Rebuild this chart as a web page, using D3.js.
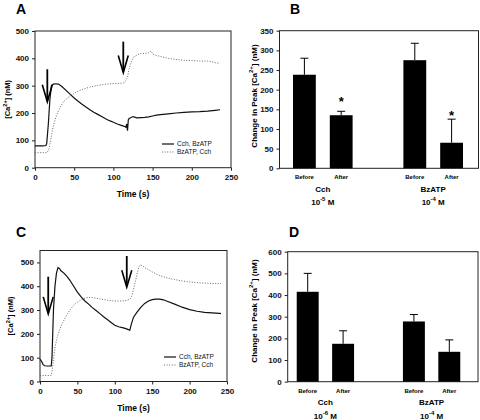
<!DOCTYPE html>
<html><head><meta charset="utf-8">
<script src="https://cdn.jsdelivr.net/npm/d3@7"></script>
<style>
body{margin:0;background:#fff;}
svg{display:block;font-family:"Liberation Sans",Arial,sans-serif;}
</style></head>
<body><svg id="c" width="480" height="420"></svg>
<script>
// ---------- DATA ----------
// Panel A: time course (s, nM)
const timeA_cch = [0,5,10,14,15,17,19,21,24,30,35,40,45,50,55,60,65,70,75,80,85,90,95,100,105,110,113,115,116,117,118,119,120,122,125,130,135,140,145,150,155,160,170,180,190,200,210,220,230,236];
const caA_cch   = [80,80,80,81,90,160,250,300,307,306,295,282,268,255,243,232,222,212,203,195,187,179,172,166,160,155,152,150,148,160,135,175,180,183,187,182,183,184,186,189,192,194,197,200,202,204,205,207,210,212];
const timeA_bz  = [0,10,15,16,18,20,22,25,28,32,36,40,45,50,55,60,70,80,90,100,110,113,115,118,120,123,126,130,135,140,145,148,150,155,160,170,180,190,200,210,220,225,230,236];
const caA_bz    = [55,55,55,58,70,100,135,170,195,220,240,252,263,272,280,286,295,301,305,308,309,310,316,330,360,390,405,412,418,418,420,427,415,410,407,400,396,393,392,390,390,388,384,382];
const arrowsA_t = [15.7,112.6], arrowsA_top = [360,461], arrowsA_tip = [241,348];

// Panel C: time course (s, nM)
const timeC_cch = [0,2,4,6,10,15,16,17,18,20,22,24,26,28,32,36,40,45,50,55,60,65,70,75,80,85,90,95,100,105,110,115,118,120,122,125,130,135,140,145,150,155,160,165,170,180,190,200,210,220,230,240,242];
const caC_cch   = [94,85,72,66,65,65,100,200,300,400,455,478,475,465,455,441,425,400,375,355,338,325,310,298,285,272,260,248,236,230,226,222,218,215,240,270,292,312,328,338,344,346,346,343,337,325,312,302,295,290,288,286,285];
const timeC_bz  = [0,10,15,16,18,20,23,26,30,35,40,45,50,55,60,65,70,75,80,90,100,110,115,120,123,126,129,132,134,137,140,150,160,170,180,190,200,210,220,230,240,242];
const caC_bz    = [25,25,25,40,90,145,185,215,245,275,300,320,333,343,350,353,352,350,347,341,338,338,340,345,360,400,440,480,490,485,478,460,445,435,428,422,418,415,413,412,411,412];
const arrowsC_t = [11,116], arrowsC_top = [440,527], arrowsC_tip = [284,396];

const legendLabels = ["Cch, BzATP","BzATP, Cch"];

// Panel B: bar chart
const barCats  = ["Before","After","Before","After"];
const groupsB  = ["Cch","BzATP"];
const concB    = [["10","-5"," M"],["10","-4"," M"]];
const valuesB  = [238,135,275,65];
const errorsB  = [42,10,43,60];
const starB    = [null,174,null,140];
const ticksB   = [0,50,100,150,200,250,300,350];

// Panel D: bar chart
const groupsD  = ["Cch","BzATP"];
const concD    = [["10","-6"," M"],["10","-4"," M"]];
const valuesD  = [415,175,278,138];
const errorsD  = [85,60,32,55];
const ticksD   = [0,100,200,300,400,500,600];

const ticksLine = [0,100,200,300,400,500];
const ticksTime = [0,50,100,150,200,250];

// ---------- DRAW ----------
const svg = d3.select("#c");
const FONT = 8;

function frame(g, x0, x1, yT, yB){
  g.append("rect").attr("x",x0).attr("y",yT).attr("width",x1-x0).attr("height",yB-yT)
    .attr("fill","none").attr("stroke","#222").attr("stroke-width",1);
}
function styleAxis(a){
  a.select(".domain").remove();
  a.selectAll("text").attr("font-size",FONT).attr("font-weight","bold").attr("fill","#111")
    .attr("font-family","Liberation Sans, Arial, sans-serif");
  a.selectAll("line").attr("stroke","#222");
}
function panelLetter(t,x,y){
  svg.append("text").attr("x",x).attr("y",y).text(t).attr("font-size",14).attr("font-weight","bold");
}
function caLabel(x,y,text1,sup,text2,size){
  const t = svg.append("text").attr("transform",`translate(${x},${y}) rotate(-90)`)
    .attr("text-anchor","middle").attr("font-size",size).attr("font-weight","bold");
  t.append("tspan").text(text1);
  t.append("tspan").text(sup).attr("font-size",size*0.75).attr("dy",-size*0.45);
  t.append("tspan").text(text2).attr("dy",size*0.45);
}

function linePanel(opt){
  const x = d3.scaleLinear().domain([0,250]).range([opt.x0,opt.x1]);
  const y = d3.scaleLinear().domain([0,opt.ymax]).range([opt.yB,opt.yT]);
  const g = svg.append("g");
  frame(g,opt.x0,opt.x1,opt.yT,opt.yB);
  const ay = g.append("g").attr("transform",`translate(${opt.x0},0)`)
    .call(d3.axisLeft(y).tickValues(ticksLine).tickSize(3).tickPadding(3).tickFormat(d3.format("d")));
  styleAxis(ay);
  const ax = g.append("g").attr("transform",`translate(0,${opt.yB})`)
    .call(d3.axisBottom(x).tickValues(ticksTime).tickSize(3).tickPadding(4).tickFormat(d3.format("d")));
  styleAxis(ax);
  const line = d3.line().x(d=>x(d[0])).y(d=>y(d[1]));
  g.append("path").datum(d3.zip(opt.tb,opt.vb)).attr("d",line)
    .attr("fill","none").attr("stroke","#666").attr("stroke-width",1).attr("stroke-dasharray","1,1.6");
  g.append("path").datum(d3.zip(opt.ta,opt.va)).attr("d",line)
    .attr("fill","none").attr("stroke","#111").attr("stroke-width",1.2);
  // arrows
  opt.arT.forEach((t,i)=>{
    const xx = x(t), y1 = y(opt.arTop[i]), y2 = y(opt.arTip[i]);
    g.append("line").attr("x1",xx).attr("x2",xx).attr("y1",y1).attr("y2",y2-1)
      .attr("stroke","#000").attr("stroke-width",1.8);
    g.append("path").attr("d",`M${xx-5},${y2-17}L${xx},${y2}L${xx+5},${y2-17}`)
      .attr("fill","none").attr("stroke","#000").attr("stroke-width",1.6);
  });
  // legend
  legendLabels.forEach((lab,i)=>{
    const ly = opt.legY + i*8;
    g.append("line").attr("x1",opt.legX).attr("x2",opt.legX+12).attr("y1",ly).attr("y2",ly)
      .attr("stroke", i===0?"#111":"#666").attr("stroke-width", i===0?1.2:1)
      .attr("stroke-dasharray", i===0?null:"1,1.6");
    g.append("text").attr("x",opt.legX+15).attr("y",ly+2.3).text(lab).attr("font-size",6.5).attr("fill","#111");
  });
  // x title
  svg.append("text").attr("x",(opt.x0+opt.x1)/2).attr("y",opt.yB+29).attr("text-anchor","middle")
    .attr("font-size",8.5).attr("font-weight","bold").text("Time (s)");
  caLabel(opt.ylx,(opt.yT+opt.yB)/2,"[Ca","2+","] (nM)",7.5);
}

function barPanel(opt){
  const x = d3.scaleBand().domain([0,1,"gap",2,3]).range([opt.b0,opt.b1]).paddingInner(0.38).paddingOuter(0.19);
  const y = d3.scaleLinear().domain([0,opt.ymax]).range([opt.yB,opt.yT]);
  const g = svg.append("g");
  frame(g,opt.x0,opt.x1,opt.yT,opt.yB);
  const ay = g.append("g").attr("transform",`translate(${opt.x0},0)`)
    .call(d3.axisLeft(y).tickValues(opt.ticks).tickSize(3).tickPadding(3).tickFormat(d3.format("d")));
  styleAxis(ay);
  opt.values.forEach((v,i)=>{
    const cx = x(i)+x.bandwidth()/2;
    // error bar
    g.append("line").attr("x1",cx).attr("x2",cx).attr("y1",y(v)).attr("y2",y(v+opt.errors[i])).attr("stroke","#000");
    g.append("line").attr("x1",cx-4).attr("x2",cx+4).attr("y1",y(v+opt.errors[i])).attr("y2",y(v+opt.errors[i])).attr("stroke","#000");
    g.append("rect").attr("x",x(i)).attr("y",y(v)).attr("width",x.bandwidth()).attr("height",y(0)-y(v)).attr("fill","#000");
    g.append("text").attr("x",cx).attr("y",opt.yB+11).attr("text-anchor","middle")
      .attr("font-size",6).attr("font-weight","bold").text(barCats[i]);
    if(opt.stars && opt.stars[i]!=null){
      g.append("text").attr("x",cx).attr("y",y(opt.stars[i])+6.5).attr("text-anchor","middle")
        .attr("font-size",13).attr("font-weight","bold").text("*");
    }
  });
  opt.groups.forEach((gr,k)=>{
    const cx = (x(2*k)+x(2*k+1)+x.bandwidth())/2;
    g.append("text").attr("x",cx).attr("y",opt.yB+23.5).attr("text-anchor","middle")
      .attr("font-size",8).attr("font-weight","bold").text(gr);
    const t = g.append("text").attr("x",cx).attr("y",opt.yB+37).attr("text-anchor","middle")
      .attr("font-size",8).attr("font-weight","bold");
    t.append("tspan").text(opt.conc[k][0]);
    t.append("tspan").text(opt.conc[k][1]).attr("font-size",6).attr("dy",-4);
    t.append("tspan").text(opt.conc[k][2]).attr("dy",4);
  });
  caLabel(opt.ylx,opt.yly,"Change in Peak [Ca","2+","] (nM)",8);
}

panelLetter("A",16,14);
panelLetter("B",290,14);
panelLetter("C",16,237);
panelLetter("D",289,237);

linePanel({x0:35,x1:231,yT:31,yB:167.7,ymax:500,ta:timeA_cch,va:caA_cch,tb:timeA_bz,vb:caA_bz,
  arT:arrowsA_t,arTop:arrowsA_top,arTip:arrowsA_tip,legX:162,legY:144,ylx:10});
linePanel({x0:40,x1:227,yT:250.5,yB:381.5,ymax:550,ta:timeC_cch,va:caC_cch,tb:timeC_bz,vb:caC_bz,
  arT:arrowsC_t,arTop:arrowsC_top,arTip:arrowsC_tip,legX:164,legY:357,ylx:13});

barPanel({x0:279.5,x1:478.5,b0:286,b1:470,yT:30.7,yB:168.3,ymax:350,ticks:ticksB,values:valuesB,errors:errorsB,
  stars:starB,groups:groupsB,conc:concB,ylx:257,yly:96});
barPanel({x0:287.7,x1:478,b0:290,b1:467,yT:251.7,yB:381.7,ymax:600,ticks:ticksD,values:valuesD,errors:errorsD,
  stars:null,groups:groupsD,conc:concD,ylx:257,yly:311});
</script></body></html>
